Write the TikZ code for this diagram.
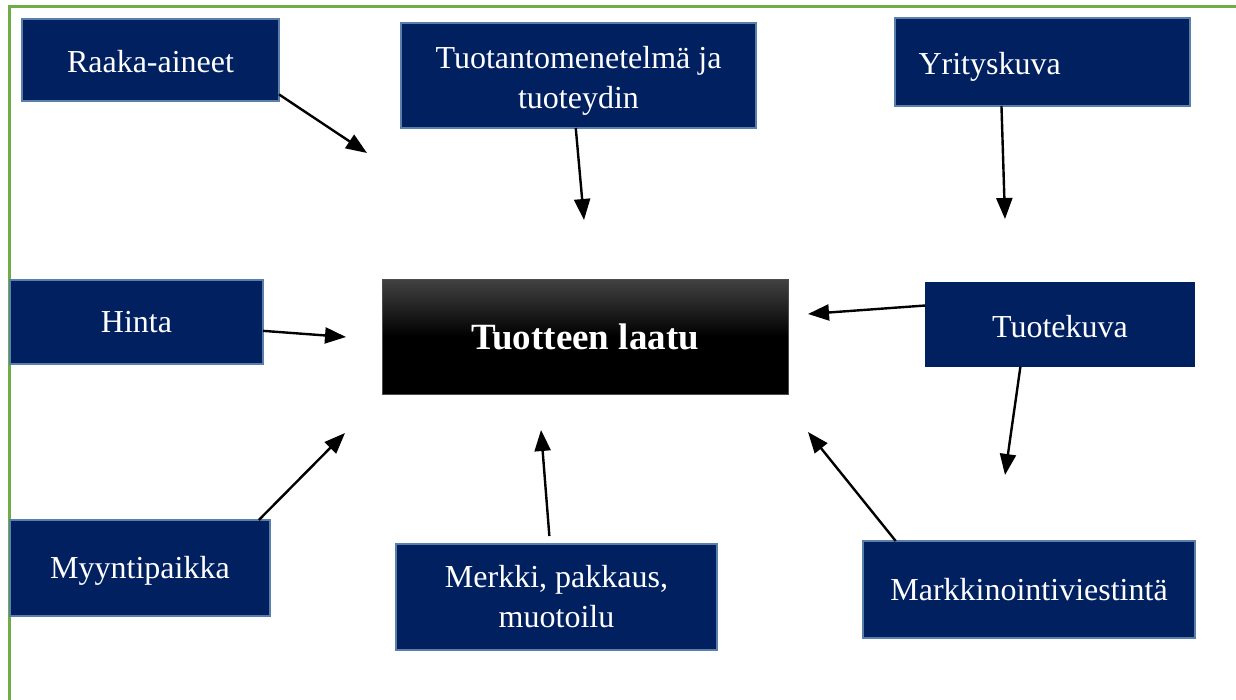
\documentclass[tikz,border=0pt]{standalone}
\usepackage{fontspec}
\setmainfont{Liberation Serif}
\usetikzlibrary{arrows.meta}
\definecolor{boxfill}{HTML}{002060}
\definecolor{boxedge}{HTML}{5A7FAB}
\definecolor{framegreen}{HTML}{70AD47}
% move text down without changing the size it reports
\newcommand{\dropline}[2]{\raisebox{-#1}[\height][\depth]{#2}}
\newcommand{\droplines}[2]{\raisebox{-#1}[\height][\depth]{\begin{tabular}{@{}c@{}}#2\end{tabular}}}
\begin{document}
\begin{tikzpicture}[x=0.5pt,y=-0.5pt,
  factor/.style={fill=boxfill,draw=boxedge,line width=1.2pt,text=white,
    inner sep=0pt,outer sep=0pt,align=center,
    font=\fontsize{16}{20}\selectfont},
  plainfactor/.style={factor,draw=none},
  core/.style={draw=black!70,line width=0.5pt,top color=black!74,
    bottom color=black,middle color=black,text=white,inner sep=0pt,
    outer sep=0pt,font=\bfseries\fontsize{18.5}{22}\selectfont},
  link/.style={line width=1.2pt,-{Triangle[length=10.5pt,width=8pt]}}]
\useasboundingbox (0,0) rectangle (1236,700);

% frame
\draw[framegreen,line width=1.5pt] (9,700) -- (9,7) -- (1236,7);

% centre
\node[core,minimum width=203pt,minimum height=57.5pt] (laatu) at (585,336.5) {Tuotteen laatu};

% factors
\node[factor,minimum width=128.5pt,minimum height=41pt] (raaka) at (150.5,60) {\dropline{1pt}{Raaka-aineet}};
\node[factor,minimum width=177.5pt,minimum height=52.5pt] (tuotanto) at (578.5,75.5) {\droplines{2.5pt}{Tuotantomenetelmä ja\\tuoteydin}};
\node[factor,minimum width=147.5pt,minimum height=44pt,text width=124pt,align=left] (yritys) at (1042.5,62) {\dropline{2.5pt}{Yrityskuva}};
\node[factor,minimum width=126.5pt,minimum height=42pt] (hinta) at (136.5,322) {Hinta};
\node[plainfactor,minimum width=135pt,minimum height=42.5pt] (tuotekuva) at (1060,324.5) {\dropline{1pt}{Tuotekuva}};
\node[factor,minimum width=130pt,minimum height=48pt] (myynti) at (140,568) {\dropline{1.5pt}{Myyntipaikka}};
\node[factor,minimum width=160.5pt,minimum height=53pt] (merkki) at (556.5,597) {Merkki, pakkaus,\\muotoilu};
\node[factor,minimum width=166pt,minimum height=48.5pt] (markk) at (1029,589.5) {Markkinointiviestintä};

% arrow ends
\coordinate (e1) at (367,153);
\coordinate (e2) at (584,220);
\coordinate (e3) at (1005,219);
\coordinate (e4) at (346,337);
\coordinate (e5) at (808,314);
\coordinate (e6) at (1005,475);
\coordinate (e7) at (345,433);
\coordinate (e8) at (541,430);
\coordinate (e9) at (808,432);

% connectors
\draw[link] (raaka.-15) -- (e1);
\draw[link] (tuotanto.-93) -- (e2);
\draw[link] (yritys.-133) -- (e3);
\draw[link] (hinta.-4) -- (e4);
\draw[link] (tuotekuva.172) -- (e5);
\draw[link] (tuotekuva.-133) -- (e6);
\draw[link] (myynti.22) -- (e7);
\draw[link,shorten <=4pt] (merkki.97) -- (e8);
\draw[link] (markk.160) -- (e9);
\end{tikzpicture}
\end{document}
